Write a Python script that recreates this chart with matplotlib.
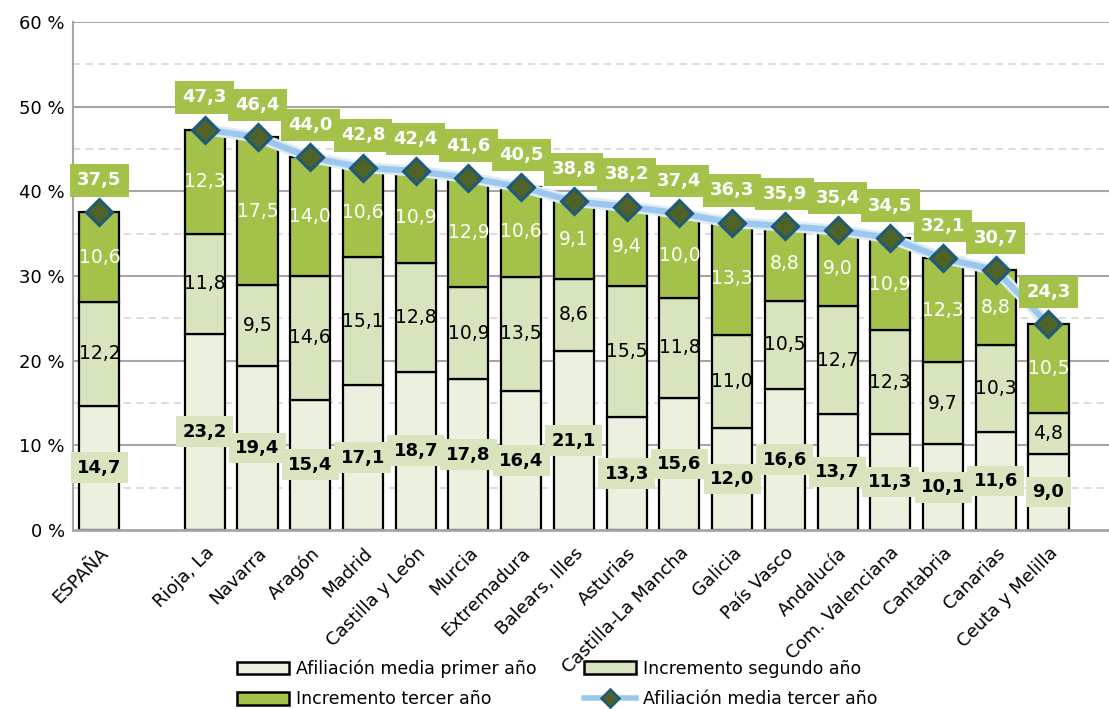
import matplotlib
matplotlib.use("Agg")
import matplotlib.pyplot as plt
import numpy as np
from matplotlib.lines import Line2D
from matplotlib.patches import Patch

categories = ["ESPAÑA", "Rioja, La", "Navarra", "Aragón", "Madrid", "Castilla y León",
              "Murcia", "Extremadura", "Balears, Illes", "Asturias", "Castilla-La Mancha",
              "Galicia", "País Vasco", "Andalucía", "Com. Valenciana", "Cantabria",
              "Canarias", "Ceuta y Melilla"]
primer = [14.7, 23.2, 19.4, 15.4, 17.1, 18.7, 17.8, 16.4, 21.1, 13.3, 15.6, 12.0, 16.6,
          13.7, 11.3, 10.1, 11.6, 9.0]
segundo = [12.2, 11.8, 9.5, 14.6, 15.1, 12.8, 10.9, 13.5, 8.6, 15.5, 11.8, 11.0, 10.5,
           12.7, 12.3, 9.7, 10.3, 4.8]
tercero = [10.6, 12.3, 17.5, 14.0, 10.6, 10.9, 12.9, 10.6, 9.1, 9.4, 10.0, 13.3, 8.8,
           9.0, 10.9, 12.3, 8.8, 10.5]
total = [37.5, 47.3, 46.4, 44.0, 42.8, 42.4, 41.6, 40.5, 38.8, 38.2, 37.4, 36.3, 35.9,
         35.4, 34.5, 32.1, 30.7, 24.3]

c1, c2, c3 = "#EBF1DE", "#D7E4BD", "#A4C14A"
line_c = "#9DC8EE"
mk_face, mk_edge = "#4F6228", "#1F5A7A"

plt.rcParams["font.family"] = ["DejaVu Sans"]

fig = plt.figure(figsize=(11.09, 7.09), dpi=100)
ax = fig.add_axes([0.0658, 0.2525, 0.94, 0.7165])

x = np.array([0] + list(range(2, len(categories) + 1)), dtype=float)
p = np.array(primer); s = np.array(segundo); t = np.array(tercero); tot = np.array(total)
w = 0.76

# grid
for yv in range(5, 60, 10):
    ax.axhline(yv, color="#D9D9D9", lw=1.3, ls=(0, (4, 3)), zorder=0)
for yv in range(10, 61, 10):
    ax.axhline(yv, color="#A6A6A6", lw=1.5, zorder=0)

ax.bar(x, p, w, color=c1, edgecolor="black", lw=1.6, zorder=2)
ax.bar(x, s, w, bottom=p, color=c2, edgecolor="black", lw=1.6, zorder=2)
ax.bar(x, t, w, bottom=p + s, color=c3, edgecolor="black", lw=1.6, zorder=2)

fmt = lambda v: f"{v:.1f}".replace(".", ",")

# line (regions only) and markers
ax.plot(x[1:], tot[1:], color="#DDEBF7", lw=8, solid_capstyle="round", zorder=3)
ax.plot(x[1:], tot[1:], color=line_c, lw=4.5, solid_capstyle="round", zorder=3)
ax.plot(x, tot, ls="none", marker="D", ms=13, mfc=mk_face, mec=mk_edge, mew=2.2, zorder=4)

for xi, a, b, c, tt in zip(x, p, s, t, tot):
    ax.text(xi, a / 2, fmt(a), ha="center", va="center", fontsize=13, fontweight="bold",
            color="black", zorder=5,
            bbox=dict(boxstyle="square,pad=0.35", fc=c2, ec="none"))
    ax.text(xi, a + b / 2, fmt(b), ha="center", va="center", fontsize=13.5,
            color="black", zorder=5)
    ax.text(xi, a + b + c / 2, fmt(c), ha="center", va="center", fontsize=13.5,
            color="white", zorder=5)
    ax.text(xi, tt + 3.8, fmt(tt), ha="center", va="center", fontsize=13, fontweight="bold",
            color="white", zorder=5,
            bbox=dict(boxstyle="square,pad=0.4", fc=c3, ec="none"))

ax.set_xlim(-0.5, 19.27)
ax.set_ylim(0, 60)
ax.set_yticks(range(0, 61, 10))
ax.set_yticklabels([f"{v} %" for v in range(0, 61, 10)], fontsize=13)
ax.set_xticks(x)
ax.set_xticklabels(categories, rotation=45, ha="right", rotation_mode="anchor", fontsize=13)
ax.tick_params(axis="both", length=0, pad=6)
ax.tick_params(axis="x", pad=10)
for sp in ["top", "right"]:
    ax.spines[sp].set_visible(False)
ax.spines["left"].set_color("#A6A6A6"); ax.spines["left"].set_linewidth(1.5)
ax.spines["bottom"].set_color("#A6A6A6"); ax.spines["bottom"].set_linewidth(2)

h1 = [Patch(fc=c1, ec="black", lw=1.8, label="Afiliación media primer año"),
      Patch(fc=c3, ec="black", lw=1.8, label="Incremento tercer año")]
h2 = [Patch(fc=c2, ec="black", lw=1.8, label="Incremento segundo año"),
      Line2D([0], [0], color=line_c, lw=4, marker="D", ms=9, mfc=mk_face, mec=mk_edge,
             mew=1.8, label="Afiliación media tercer año")]
leg_kw = dict(frameon=False, handlelength=3.0, handleheight=0.75,
              handletextpad=0.4, labelspacing=0.72, borderpad=0, borderaxespad=0,
              loc="center left", prop={"family": "DejaVu Sans", "size": 12.5})
fig.legend(handles=h1, bbox_to_anchor=(237 / 1109, 1 - 684 / 709), **leg_kw)
fig.legend(handles=h2, bbox_to_anchor=(584 / 1109, 1 - 684 / 709), **leg_kw)

fig.savefig("out.png", dpi=100)
